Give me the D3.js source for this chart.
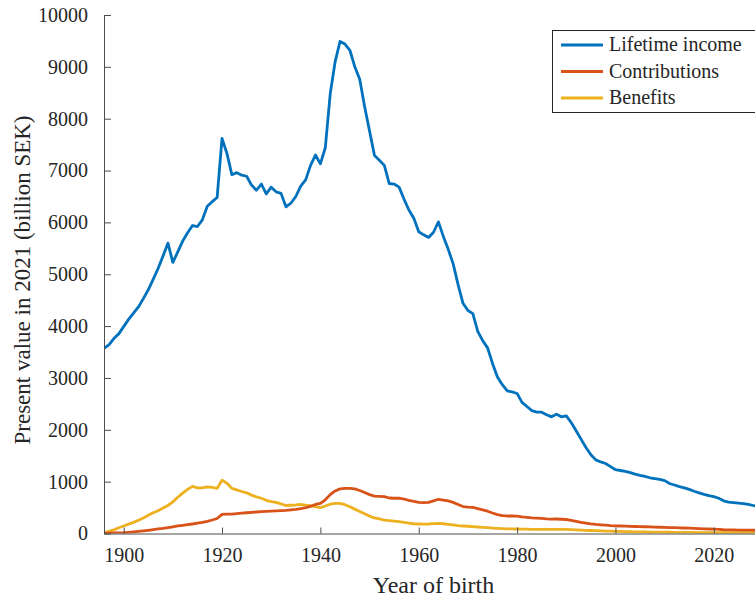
<!DOCTYPE html>
<html>
<head>
<meta charset="utf-8">
<script src="https://cdn.jsdelivr.net/npm/d3@7"></script>
<style>
  body { margin: 0; background: #fff; }
  svg { display: block; }
  text { font-family: "Liberation Serif", "DejaVu Serif", serif; fill: #262626; }
</style>
</head>
<body>
<div id="chart"></div>
<script>
var svgWidth = 755;
var svgHeight = 601;

// axes box in pixels (right side runs off the picture, as in the original)
var margin = { top: 15, left: 104 };
var plotRight = 763;
var plotBottom = 533.5;

// data (billion SEK, present value in 2021)
var years = d3.range(1896, 2030);

var lifetimeIncome = [
  3572, 3640, 3760, 3850, 3990, 4130, 4250, 4370, 4530, 4700,
  4900, 5110, 5350, 5600, 5230, 5430, 5640, 5800, 5940, 5920,
  6050, 6310, 6400, 6480, 7620, 7330, 6920, 6960, 6910, 6890,
  6720, 6620, 6740, 6550, 6680, 6590, 6560, 6300, 6370, 6500,
  6700, 6820, 7100, 7300, 7130, 7440, 8480, 9100, 9490, 9440,
  9320, 9000, 8760, 8230, 7760, 7290, 7200, 7100, 6750, 6740,
  6680, 6450, 6240, 6080, 5820, 5760, 5710, 5810, 6010, 5730,
  5480, 5200, 4800, 4440, 4300, 4240, 3900, 3720, 3580, 3280,
  3020, 2870, 2750, 2730, 2700, 2530, 2450, 2370, 2340, 2340,
  2290, 2250, 2300, 2250, 2270, 2140, 1980, 1820, 1660, 1520,
  1420, 1380, 1350, 1290, 1230, 1215, 1200, 1175, 1145, 1120,
  1100, 1075, 1060, 1045, 1020, 965, 935, 905, 880, 850,
  815, 785, 755, 730, 710, 680, 630, 605, 595, 585,
  575, 560, 540, 520
];

var contributions = [
  5, 8, 10, 12, 15, 22, 30, 40, 50, 62,
  75, 88, 100, 115, 130, 145, 158, 170, 183, 198,
  215, 235, 260, 290, 370, 375, 375, 385, 392, 400,
  408, 415, 420, 425, 430, 435, 440, 445, 455, 465,
  480, 500, 525, 560, 580, 650, 750, 820, 860, 870,
  870, 860, 830, 790, 750, 720, 715, 710, 685, 680,
  680, 665, 640, 620, 600, 595, 600, 630, 660, 645,
  630, 600, 560, 520, 510, 505, 480, 455, 430, 395,
  365, 345, 338, 338, 335, 320, 310, 300, 295, 290,
  282, 278, 280, 275, 270, 255, 235, 215, 200, 185,
  175, 168, 160, 152, 148, 145, 142, 138, 135, 132,
  130, 127, 124, 121, 118, 115, 112, 110, 106, 102,
  98, 94, 90, 87, 84, 78, 72, 70, 68, 67,
  66, 65, 63, 61
];

var benefits = [
  10, 40, 70, 110, 145, 180, 215, 255, 300, 350,
  400, 440, 490, 540, 610, 700, 780, 850, 910, 880,
  880, 900, 890, 870, 1030, 970, 870, 840, 810, 785,
  740, 705, 680, 640, 615, 600, 570, 540, 545, 550,
  560, 545, 535, 520, 500, 530, 565, 580, 580, 555,
  515, 470, 425, 380, 335, 300, 280, 260, 250, 240,
  228, 215, 200, 188, 183, 180, 183, 190, 196, 188,
  178, 165, 150, 145, 140, 132, 125, 120, 112, 105,
  100, 95, 90, 88, 87, 85, 83, 81, 81, 81,
  81, 81, 81, 80, 78, 74, 70, 66, 62, 58,
  54, 50, 47, 44, 42, 40, 37, 35, 33, 31,
  30, 28, 27, 26, 25, 24, 23, 22, 21, 20,
  19, 18, 17, 16, 16, 15, 15, 15, 14, 14,
  14, 14, 14, 14
];

var seriesNames = ["Lifetime income", "Contributions", "Benefits"];
var seriesColors = ["#0072BD", "#D95319", "#EDB120"];
var xTicks = [1900, 1920, 1940, 1960, 1980, 2000, 2020];
var yTicks = [0, 1000, 2000, 3000, 4000, 5000, 6000, 7000, 8000, 9000, 10000];

var svg = d3.select("#chart")
  .append("svg")
  .attr("width", svgWidth)
  .attr("height", svgHeight);

var xScale = d3.scaleLinear()
  .domain([1896, 2030])
  .range([margin.left, plotRight]);

var yScale = d3.scaleLinear()
  .domain([0, 10000])
  .range([plotBottom, margin.top]);

// lines first, axes drawn on top like matlab
var allSeries = [lifetimeIncome, contributions, benefits];
var line = d3.line()
  .x((d, i) => xScale(years[i]))
  .y(d => yScale(d));

svg.append("defs").append("clipPath")
  .attr("id", "plotClip")
  .append("rect")
  .attr("x", margin.left)
  .attr("y", margin.top - 5)
  .attr("width", plotRight - margin.left)
  .attr("height", plotBottom - margin.top + 5);

var linesGroup = svg.append("g").attr("clip-path", "url(#plotClip)");
allSeries.slice().reverse().forEach(function(values, k) {
  var idx = allSeries.length - 1 - k;
  linesGroup.append("path")
    .datum(values)
    .attr("fill", "none")
    .attr("stroke", seriesColors[idx])
    .attr("stroke-width", 2.8)
    .attr("stroke-linejoin", "round")
    .attr("d", line);
});

// x axis, ticks point inward
var bottomAxis = d3.axisBottom(xScale)
  .tickValues(xTicks)
  .tickFormat(d3.format("d"))
  .tickSizeInner(-6)
  .tickSizeOuter(0)
  .tickPadding(14);

var xAxis = svg.append("g")
  .attr("transform", `translate(0, ${plotBottom})`)
  .call(bottomAxis);

var leftAxis = d3.axisLeft(yScale)
  .tickValues(yTicks)
  .tickFormat(d3.format("d"))
  .tickSizeInner(-7)
  .tickSizeOuter(0)
  .tickPadding(16);

var yAxis = svg.append("g")
  .attr("transform", `translate(${margin.left}, 0)`)
  .call(leftAxis);

[xAxis, yAxis].forEach(function(ax) {
  ax.select(".domain").attr("stroke", "#4d4d4d").attr("stroke-width", 1);
  ax.selectAll(".tick line").attr("stroke", "#4d4d4d");
  ax.selectAll(".tick text")
    .attr("fill", "#262626")
    .style("font-size", "20px")
    .style("font-family", "'Liberation Serif', serif");
});

// axis titles
svg.append("text")
  .attr("x", (margin.left + plotRight) / 2)
  .attr("y", 593)
  .attr("text-anchor", "middle")
  .style("font-size", "24px")
  .text("Year of birth");

svg.append("text")
  .attr("transform", `translate(30, 280) rotate(-90)`)
  .attr("text-anchor", "middle")
  .style("font-size", "23px")
  .text("Present value in 2021 (billion SEK)");

// legend
var legend = svg.append("g");
legend.append("rect")
  .attr("x", 552.5)
  .attr("y", 30.5)
  .attr("width", 220)
  .attr("height", 82)
  .attr("fill", "#fff")
  .attr("stroke", "#262626")
  .attr("stroke-width", 1);

seriesNames.forEach(function(name, i) {
  var yPos = 45 + i * 26.5;
  legend.append("line")
    .attr("x1", 561)
    .attr("x2", 603)
    .attr("y1", yPos)
    .attr("y2", yPos)
    .attr("stroke", seriesColors[i])
    .attr("stroke-width", 2.8);
  legend.append("text")
    .attr("x", 609)
    .attr("y", yPos + 6)
    .style("font-size", "20px")
    .text(name);
});
</script>
</body>
</html>
